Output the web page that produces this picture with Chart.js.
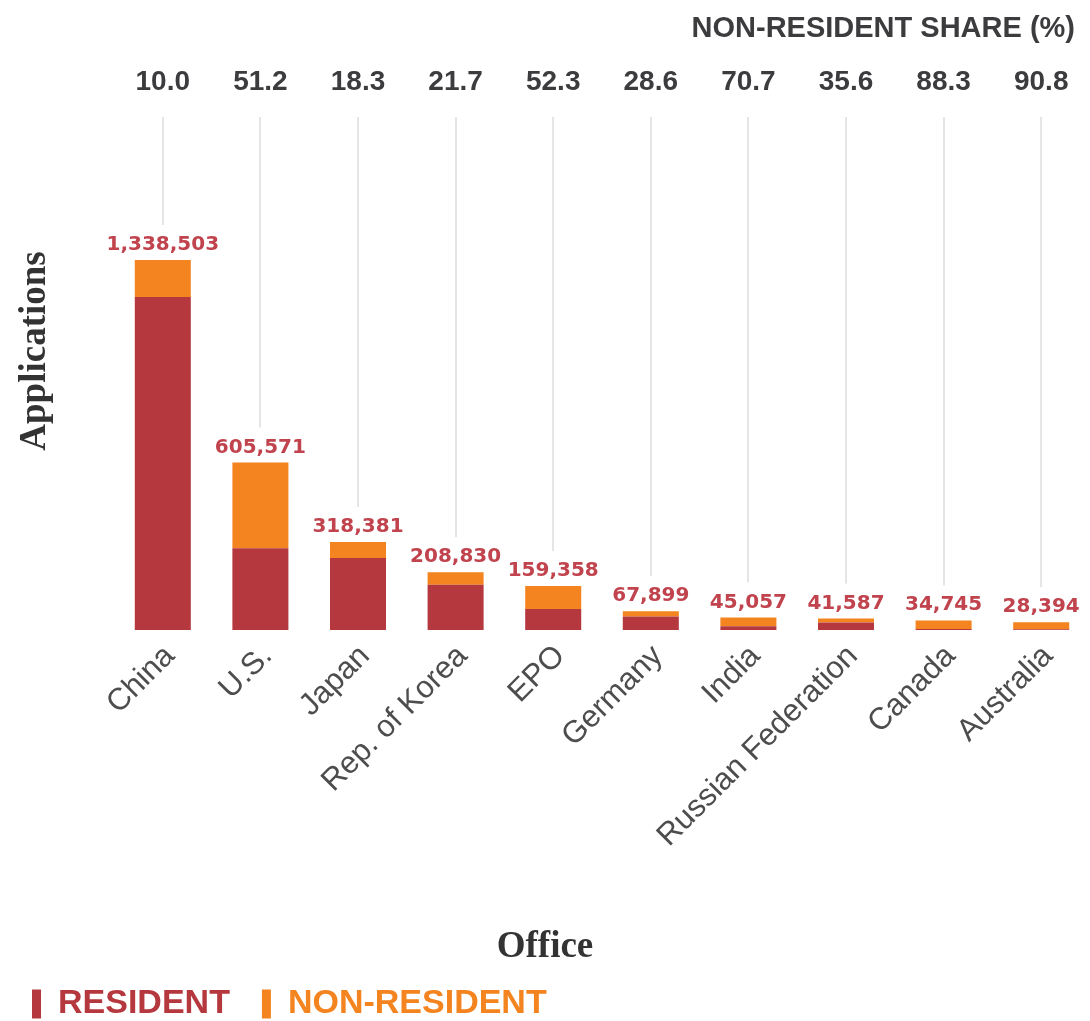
<!DOCTYPE html>
<html>
  <head>
    <meta charset="utf-8" />
    <title>Patent applications by office</title>
    <script src="https://cdn.jsdelivr.net/npm/chart.js@4.4.1/dist/chart.umd.min.js"></script>
    <style>
      body {
        margin: 0;
        background: #fff;
      }
      #chart {
        display: block;
      }
    </style>
  </head>
  <body>
    <canvas id="chart" width="1090" height="1021"></canvas>
    <script>
      const offices = ["China", "U.S.", "Japan", "Rep. of Korea", "EPO", "Germany", "India", "Russian Federation", "Canada", "Australia"];
      const totals = [1338503, 605571, 318381, 208830, 159358, 67899, 45057, 41587, 34745, 28394];
      const nonResidentShare = ["10.0", "51.2", "18.3", "21.7", "52.3", "28.6", "70.7", "35.6", "88.3", "90.8"];
      const resident = [1204653, 295519, 260117, 163514, 76014, 48480, 13202, 26782, 4065, 2612];
      const nonResident = [133850, 310052, 58264, 45316, 83344, 19419, 31855, 14805, 30680, 25782];

      const RED = "#b5383f";
      const ORANGE = "#f3841f";
      const SANS = "'Liberation Sans', Arial, sans-serif";
      const SERIF = "'Liberation Serif', 'Times New Roman', serif";

      // gridlines, share row, total labels and axis titles
      const overlay = {
        id: "overlay",
        beforeDatasetsDraw(chart) {
          const { ctx, chartArea, scales } = chart;
          ctx.save();
          ctx.strokeStyle = "#dcdcdc";
          ctx.lineWidth = 1.5;
          offices.forEach((o, i) => {
            const px = Math.round(scales.x.getPixelForValue(i));
            ctx.beginPath();
            ctx.moveTo(px, chartArea.top);
            ctx.lineTo(px, scales.y.getPixelForValue(totals[i]) - 35);
            ctx.stroke();
          });
          ctx.restore();
        },
        afterDatasetsDraw(chart) {
          const { ctx, chartArea, scales } = chart;
          ctx.save();
          ctx.textAlign = "center";
          ctx.textBaseline = "alphabetic";

          ctx.fillStyle = "#c0434d";
          ctx.font = "bold 20px 'DejaVu Sans', sans-serif";
          totals.forEach((t, i) => {
            const px = scales.x.getPixelForValue(i);
            ctx.fillText(t.toLocaleString("en-US"), px, scales.y.getPixelForValue(t) - 10);
          });

          ctx.fillStyle = "#3c3c3f";
          ctx.font = "bold 28px " + SANS;
          nonResidentShare.forEach((s, i) => {
            ctx.fillText(s, scales.x.getPixelForValue(i), chartArea.top - 27);
          });

          ctx.font = "bold 29px " + SANS;
          ctx.textAlign = "right";
          ctx.fillText("NON-RESIDENT SHARE (%)", 1075, 37);

          ctx.fillStyle = "#333";
          ctx.font = "bold 37px " + SERIF;
          ctx.textAlign = "center";
          ctx.textBaseline = "middle";
          ctx.fillText("Office", 545, 947);
          ctx.translate(35, 351);
          ctx.rotate(-Math.PI / 2);
          ctx.fillText("Applications", 0, 0);
          ctx.restore();
        },
      };

      new Chart(document.getElementById("chart"), {
        type: "bar",
        data: {
          labels: offices,
          datasets: [
            { label: "RESIDENT", data: resident, backgroundColor: RED },
            { label: "NON-RESIDENT", data: nonResident, backgroundColor: ORANGE },
          ],
        },
        options: {
          responsive: false,
          animation: false,
          categoryPercentage: 1,
          barPercentage: 0.574,
          layout: { padding: { top: 117, left: 0, right: 0, bottom: 0 } },
          scales: {
            x: {
              stacked: true,
              grid: { display: false },
              border: { display: false },
              ticks: {
                minRotation: 45,
                maxRotation: 45,
                padding: 0,
                labelOffset: 7,
                color: "#4d4d4d",
                font: { family: SANS, size: 31 },
              },
              afterFit: (s) => {
                s.height = 325;
              },
            },
            y: {
              stacked: true,
              min: 0,
              max: 1856000,
              grid: { display: false },
              border: { display: false },
              ticks: { display: false },
              afterFit: (s) => {
                s.width = 114;
              },
            },
          },
          plugins: {
            tooltip: { enabled: false },
            legend: {
              position: "bottom",
              align: "start",
              maxHeight: 66,
              labels: {
                boxWidth: 9,
                boxHeight: 29,
                padding: 32,
                font: { family: SANS, size: 34, weight: "bold" },
                generateLabels: (chart) =>
                  chart.data.datasets.map((ds, i) => ({
                    text: ds.label,
                    fillStyle: ds.backgroundColor,
                    strokeStyle: ds.backgroundColor,
                    fontColor: ds.backgroundColor,
                    lineWidth: 0,
                    hidden: false,
                    datasetIndex: i,
                  })),
              },
            },
          },
        },
        plugins: [overlay],
      });
    </script>
  </body>
</html>
